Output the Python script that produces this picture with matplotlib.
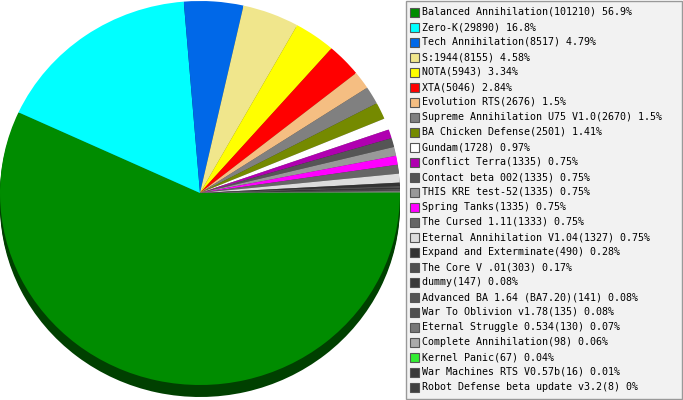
import matplotlib.pyplot as plt
from matplotlib.colors import to_rgb
from matplotlib.patches import Rectangle

# mod usage data
names = ["Balanced Annihilation", "Zero-K", "Tech Annihilation", "S:1944", "NOTA", "XTA",
         "Evolution RTS", "Supreme Annihilation U75 V1.0", "BA Chicken Defense", "Gundam",
         "Conflict Terra", "Contact beta 002", "THIS KRE test-52", "Spring Tanks",
         "The Cursed 1.11", "Eternal Annihilation V1.04", "Expand and Exterminate",
         "The Core V .01", "dummy", "Advanced BA 1.64 (BA7.20)", "War To Oblivion v1.78",
         "Eternal Struggle 0.534", "Complete Annihilation", "Kernel Panic",
         "War Machines RTS V0.57b", "Robot Defense beta update v3.2"]
counts = [101210, 29890, 8517, 8155, 5943, 5046, 2676, 2670, 2501, 1728, 1335, 1335, 1335,
          1335, 1333, 1327, 490, 303, 147, 141, 135, 130, 98, 67, 16, 8]
pcts = ["56.9%", "16.8%", "4.79%", "4.58%", "3.34%", "2.84%", "1.5%", "1.5%", "1.41%",
        "0.97%", "0.75%", "0.75%", "0.75%", "0.75%", "0.75%", "0.75%", "0.28%", "0.17%",
        "0.08%", "0.08%", "0.08%", "0.07%", "0.06%", "0.04%", "0.01%", "0%"]
colors = ["#008c00", "#00ffff", "#0068e8", "#f0e68c", "#ffff00", "#ff0000", "#f5be82",
          "#808080", "#758a00", "#ffffff", "#b000b0", "#555555", "#999999", "#ff00ff",
          "#666666", "#dddddd", "#333333", "#505050", "#3a3a3a", "#555555", "#505050",
          "#777777", "#aaaaaa", "#33ee33", "#3a3a3a", "#404040"]

W, H = 683, 400
fig = plt.figure(figsize=(W / 100, H / 100), dpi=100)

# legend (pixel coords)
lax = fig.add_axes([0, 0, 1, 1])
lax.set_xlim(0, W)
lax.set_ylim(H, 0)
lax.axis('off')
lax.add_patch(Rectangle((405.5, 0.5), 276, 398, fc='#f2f2f2', ec='#999999', lw=1))
for i, (n, c, p, col) in enumerate(zip(names, counts, pcts, colors)):
    y = 12 + 15 * i
    lax.add_patch(Rectangle((410, y - 4.5), 9, 9, fc=col, ec='#555555', lw=0.8))
    lax.text(422, y, f"{n}({c}) {p}", va='center', ha='left', fontsize=7.2,
             family='DejaVu Sans Mono', color='black')

# 3d-ish pie
cy, ry, depth = 193, 192, 12
ax = fig.add_axes([0, 0, 400 / W, 1])
shadow = [tuple(v * 0.46 for v in to_rgb(col)) for col in colors]
for d in range(depth, 0, -2):
    ax.pie(counts, colors=shadow, startangle=0, counterclock=False,
           center=(0, -d / ry), wedgeprops=dict(linewidth=0), frame=True)
ax.pie(counts, colors=colors, startangle=0, counterclock=False,
       wedgeprops=dict(linewidth=0), frame=True)
ax.set_aspect('auto')
ax.set_xlim(-1, 1)
ax.set_ylim(-(H - cy) / ry, cy / ry)
ax.axis('off')

fig.savefig("out.png", dpi=100)
